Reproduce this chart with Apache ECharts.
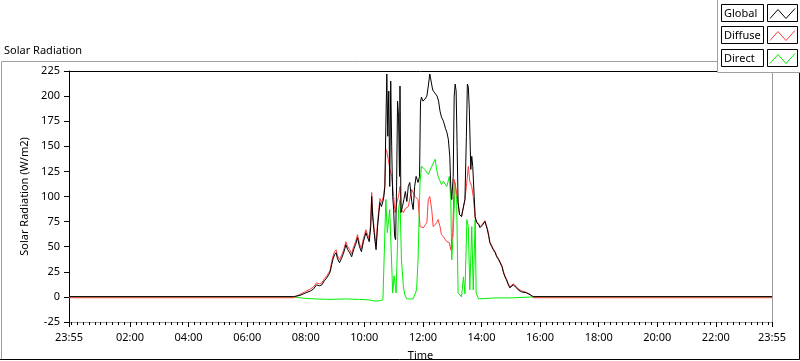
<html>
<head>
<meta charset="UTF-8">
<title>Solar Radiation</title>
<script src="https://cdn.jsdelivr.net/npm/echarts@6/dist/echarts.min.js"></script>
<style>
html, body { margin: 0; padding: 0; background: #fff; }
#chart { width: 800px; height: 361px; }
</style>
</head>
<body>
<div id="chart"></div>
<script type="text/javascript">
// time in minutes after 00:00 (-5 = 23:55 the day before)
var globalT = [-5, 455, 468, 480, 490, 496, 502, 508, 513, 518, 523, 527, 530, 533, 536, 539, 542, 545, 549, 553,
	557, 560, 562, 566, 570, 574, 578, 582, 586, 590, 594, 598, 601, 603, 606, 610, 613, 615, 617, 620,
	622, 624, 627, 630, 632, 635, 638, 640, 642, 644, 646, 648, 650, 652, 654, 656, 658, 660, 662, 664,
	666, 668, 670, 672, 673, 675, 678, 681, 684, 687, 690, 693, 697, 700, 703, 706, 710, 713, 715, 717,
	720, 724, 728, 731, 734, 737, 740, 743, 746, 749, 752, 755, 758, 762, 766, 769, 772, 775, 777, 779,
	782, 784, 786, 788, 790, 792, 795, 799, 803, 806, 809, 811, 813, 815, 818, 820, 822, 825, 827, 830,
	834, 837, 841, 844, 847, 849, 852, 855, 857, 861, 864, 868, 871, 875, 878, 882, 885, 888, 891, 895,
	898, 902, 905, 908, 912, 915, 922, 932, 940, 946, 1435];
var globalV = [0.3, 0.3, 1.5, 4, 6, 8, 12, 11, 12, 16, 19, 22, 25, 32, 38, 42, 44, 38, 34, 38,
	43, 48, 52, 47, 44, 40, 47, 52, 59, 50, 45, 55, 60, 64, 60, 55, 70, 100, 80, 64,
	55, 47, 70, 85, 94, 90, 95, 100, 110, 170, 222, 160, 205, 110, 215, 150, 100, 87, 60, 57,
	110, 195, 180, 120, 210, 84, 90, 97, 105, 95, 110, 114, 95, 87, 110, 120, 114, 120, 194, 199,
	195, 197, 200, 210, 222, 214, 206, 204, 205, 200, 195, 185, 179, 175, 168, 164, 157, 140, 110, 97,
	120, 200, 212, 205, 150, 94, 82, 80, 80, 97, 160, 212, 209, 187, 127, 140, 130, 100, 80, 74,
	72, 69, 71, 72, 75, 74, 67, 60, 54, 50, 47, 44, 40, 37, 34, 30, 24, 20, 17, 12,
	9, 10, 12, 12, 9, 7, 5, 4, 2, 0.3, 0.3];

var diffuseT = [-5, 455, 468, 480, 490, 496, 502, 508, 513, 518, 523, 527, 530, 533, 536, 539, 542, 545, 549, 553,
	557, 560, 562, 566, 570, 574, 578, 582, 586, 590, 594, 598, 601, 603, 606, 610, 613, 615, 617, 620,
	622, 624, 627, 630, 632, 635, 638, 640, 642, 644, 646, 649, 652, 656, 660, 663, 667, 670, 673, 676,
	680, 684, 690, 697, 704, 710, 714, 717, 721, 725, 728, 731, 734, 738, 741, 745, 748, 751, 755, 758,
	762, 766, 769, 774, 777, 781, 784, 788, 792, 795, 799, 803, 806, 809, 813, 816, 820, 823, 827, 830,
	834, 837, 841, 844, 847, 849, 852, 855, 857, 861, 864, 868, 871, 875, 878, 882, 885, 888, 891, 895,
	898, 902, 905, 908, 912, 915, 922, 932, 940, 946, 1435];
var diffuseV = [-0.8, -0.8, 2.5, 5.5, 8, 10, 14, 13, 14, 18, 21, 24, 27, 35, 41, 45, 47, 41, 37, 41,
	46, 51, 55, 50, 47, 43, 50, 55, 62, 53, 48, 58, 63, 67, 63, 58, 74, 104, 84, 68,
	59, 51, 74, 89, 98, 94, 98, 103, 112, 147, 145, 137, 128, 120, 100, 84, 95, 100, 110, 87,
	84, 88, 90, 107, 100, 97, 70, 69, 69, 72, 74, 97, 100, 87, 70, 72, 74, 77, 70, 62,
	60, 57, 55, 54, 47, 64, 117, 107, 94, 82, 80, 80, 97, 110, 130, 115, 110, 100, 78, 75,
	73, 70, 72, 73, 76, 75, 68, 61, 55, 51, 48, 45, 41, 38, 35, 31, 25, 21, 18, 13,
	10, 11, 13, 13, 10, 8, 6, 4.5, 2.5, -0.8, -0.8];

var directT = [-5, 455, 470, 480, 500, 530, 560, 590, 610, 620, 630, 638, 642, 644, 647, 652, 658, 661, 665, 670,
	673, 676, 680, 683, 687, 693, 700, 707, 710, 714, 717, 724, 731, 738, 745, 748, 751, 758, 762, 769,
	774, 777, 779, 782, 786, 789, 792, 799, 803, 806, 810, 813, 816, 820, 823, 827, 829, 834, 870, 900,
	946, 1435];
var directV = [0, 0, -1, -1.5, -2, -2.5, -2, -2.5, -3, -4, -4, -3, -2, 97, 64, 87, 4, 21, 4, 87,
	97, 37, 10, 2, -2, -2, -2, 7, 37, 114, 130, 127, 122, 130, 137, 127, 120, 112, 115, 110,
	120, 97, 37, 64, 114, 97, 4, 0, 20, 3, 77, 70, 7, 70, 7, 77, 4, -2, -1, -1,
	0, 0];

var yMin = -25, yMax = 225, yStep = 25;
var xMin = -5, xMax = 1435;
var labelTimes = [-5, 120, 240, 360, 480, 600, 720, 840, 960, 1080, 1200, 1320, 1435];

var fontName = 'Noto Sans';
var legendNames = ['Global', 'Diffuse', 'Direct'];
var legendColors = ['#000000', '#ff3c3c', '#00f000'];

function toPairs(ts, vs) {
	var out = [];
	for (var i = 0; i < ts.length; i++) {
		out.push([ts[i], vs[i]]);
	}
	return out;
}

function timeLabel(v) {
	var m = ((Math.round(v) % 1440) + 1440) % 1440;
	var h = Math.floor(m / 60), mm = m % 60;
	return (h < 10 ? '0' : '') + h + ':' + (mm < 10 ? '0' : '') + mm;
}

// small ticks every 12 minutes
var minorTicks = [xMin];
for (var t = 0; t < xMax; t += 12) minorTicks.push(t);
minorTicks.push(xMax);

function buildLegend() {
	var els = [];
	// panel behind legend
	els.push({ type: 'rect', shape: { x: 717, y: 0, width: 83, height: 72 }, style: { fill: '#fff' }, z: 100 });
	els.push({ type: 'polyline', shape: { points: [[717.5, 0], [717.5, 72.5], [800, 72.5]] },
		style: { stroke: '#a0a0a0', lineWidth: 1, fill: null }, z: 101 });
	for (var i = 0; i < legendNames.length; i++) {
		var top = Math.round(3.5 + i * 22.5) + 0.5;
		els.push({ type: 'rect', shape: { x: 721.5, y: top, width: 42, height: 17 },
			style: { fill: '#fff', stroke: '#000', lineWidth: 1 }, z: 102 });
		els.push({ type: 'text', x: 724, y: top + 9, style: { text: legendNames[i], fill: '#000',
			font: '11px "' + fontName + '"', textVerticalAlign: 'middle' }, z: 103 });
		els.push({ type: 'rect', shape: { x: 767.5, y: top, width: 30, height: 17 },
			style: { fill: '#fff', stroke: '#000', lineWidth: 1 }, z: 102 });
		els.push({ type: 'polyline', shape: { points: [[770, top + 14], [778, top + 5], [786, top + 14], [795, top + 4]] },
			style: { stroke: legendColors[i], lineWidth: 1, fill: null }, z: 103 });
	}
	return els;
}

var myChart = echarts.init(document.getElementById('chart'), null, { renderer: 'canvas' });

var option = {
	animation: false,
	backgroundColor: '#fff',
	textStyle: { fontFamily: fontName },
	title: {
		text: 'Solar Radiation',
		left: 4,
		top: 45,
		padding: 0,
		textStyle: { fontSize: 11, fontWeight: 'normal', color: '#000', fontFamily: fontName }
	},
	grid: { left: 69, right: 28, top: 71, bottom: 39, containLabel: false, outerBoundsMode: 'none' },
	xAxis: [{
		type: 'value',
		min: xMin,
		max: xMax,
		name: 'Time',
		nameLocation: 'middle',
		nameGap: 28,
		nameTextStyle: { fontSize: 11, color: '#000' },
		axisLine: { show: true, onZero: false, lineStyle: { color: '#9a9a9a', width: 1 } },
		axisTick: { show: true, length: 5, customValues: labelTimes, lineStyle: { color: '#000' } },
		axisLabel: { customValues: labelTimes, formatter: timeLabel, fontSize: 11, color: '#000', margin: 10 },
		splitLine: { show: false }
	}, {
		type: 'value',
		min: xMin,
		max: xMax,
		position: 'bottom',
		axisLine: { show: false, onZero: false },
		axisTick: { show: true, length: 3, customValues: minorTicks, lineStyle: { color: '#000' } },
		axisLabel: { show: false },
		splitLine: { show: false }
	}, {
		type: 'value',
		min: xMin,
		max: xMax,
		position: 'top',
		axisLine: { show: true, onZero: false, lineStyle: { color: '#000', width: 1 } },
		axisTick: { show: false },
		axisLabel: { show: false },
		splitLine: { show: false }
	}],
	yAxis: [{
		type: 'value',
		min: yMin,
		max: yMax,
		interval: yStep,
		name: 'Solar Radiation (W/m2)',
		nameLocation: 'middle',
		nameGap: 24,
		nameTextStyle: { fontSize: 11, color: '#000' },
		axisLine: { show: true, onZero: false, lineStyle: { color: '#000', width: 1 } },
		axisTick: { show: true, length: 5, lineStyle: { color: '#000' } },
		axisLabel: { fontSize: 11, color: '#000', margin: 9 },
		splitLine: { show: false }
	}, {
		type: 'value',
		min: yMin,
		max: yMax,
		interval: yStep,
		position: 'right',
		axisLine: { show: true, onZero: false, lineStyle: { color: '#9a9a9a', width: 1 } },
		axisTick: { show: false },
		axisLabel: { show: false },
		splitLine: { show: false }
	}],
	series: [{
		name: 'Direct',
		type: 'line',
		showSymbol: false,
		symbol: 'none',
		lineStyle: { width: 1, color: legendColors[2] },
		data: toPairs(directT, directV)
	}, {
		name: 'Diffuse',
		type: 'line',
		showSymbol: false,
		symbol: 'none',
		lineStyle: { width: 1, color: legendColors[1] },
		data: toPairs(diffuseT, diffuseV)
	}, {
		name: 'Global',
		type: 'line',
		showSymbol: false,
		symbol: 'none',
		lineStyle: { width: 1, color: legendColors[0] },
		data: toPairs(globalT, globalV)
	}],
	graphic: [{
		type: 'group',
		children: [
			// sunken frame around the graph
			{ type: 'polyline', shape: { points: [[1.5, 359], [1.5, 61.5], [717, 61.5]] },
				style: { stroke: '#a0a0a0', lineWidth: 1, fill: null }, z: 50 },
			{ type: 'polyline', shape: { points: [[0, 359.5], [799.5, 359.5], [799.5, 72]] },
				style: { stroke: '#000', lineWidth: 1, fill: null }, z: 50 }
		].concat(buildLegend())
	}]
};

myChart.setOption(option);
</script>
</body>
</html>
